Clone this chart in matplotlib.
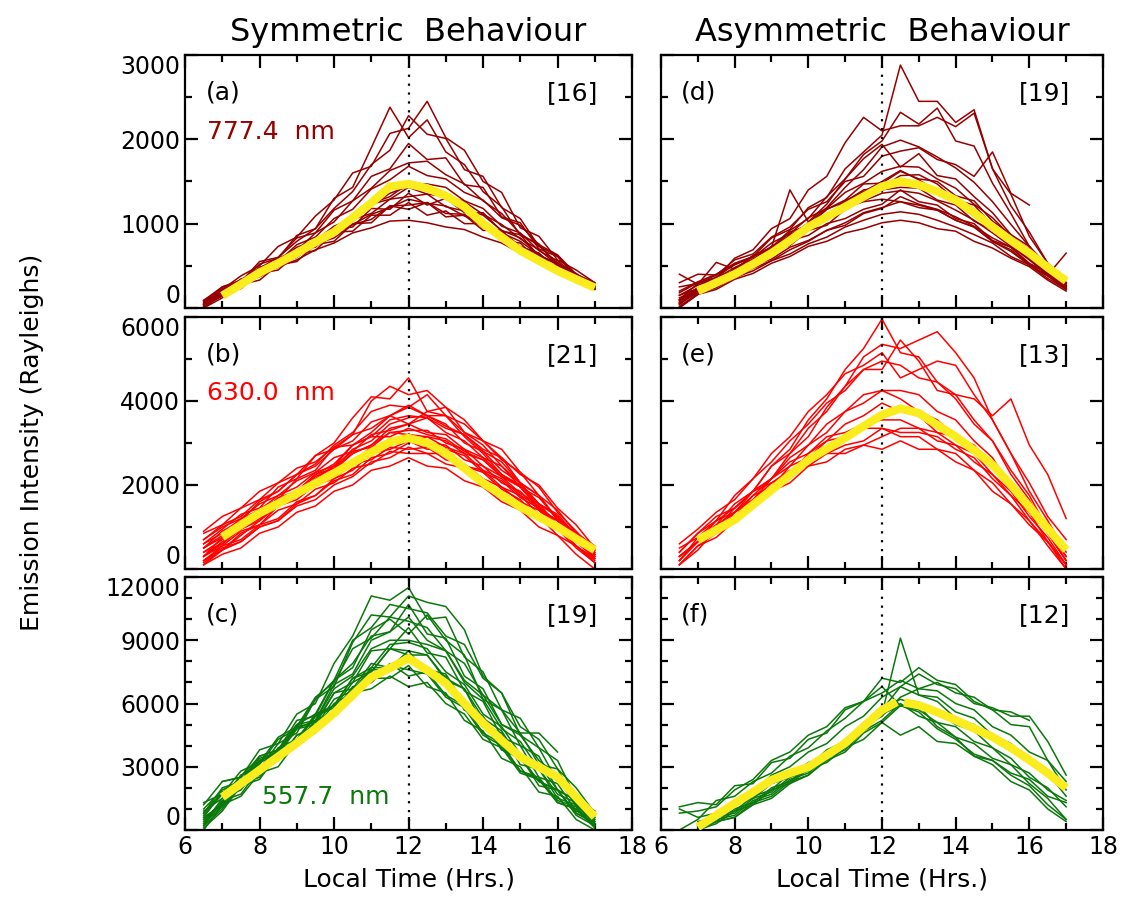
import numpy as np
import matplotlib
matplotlib.use("Agg")
import matplotlib.pyplot as plt
from matplotlib.ticker import MultipleLocator

nan = np.nan

# local time grid of the individual nights (hrs)
hours = [6.5, 7.0, 7.5, 8.0, 8.5, 9.0, 9.5, 10.0, 10.5, 11.0, 11.5,
         12.0, 12.5, 13.0, 13.5, 14.0, 14.5, 15.0, 15.5, 16.0, 16.5, 17.0]
mean_hours = [7.0, 7.5, 8.0, 8.5, 9.0, 9.5, 10.0, 10.5, 11.0, 11.5, 12.0,
              12.5, 13.0, 13.5, 14.0, 14.5, 15.0, 15.5, 16.0, 16.5, 17.0]

# ---- (a) 777.4 nm, symmetric days
trace_a = [
    [40, 230, 300, 520, 590, 860, 940, 1300, 1430, 1900, 2380, 2020, 2230, 1850, 1700, 1380, 1200, 860, 760, 500, 410, 260],
    [90, 220, 380, 500, 730, 840, 1090, 1280, 1600, 1680, 2070, 2130, 2450, 2020, 1870, 1500, 1370, 950, 850, 570, 450, 300],
    [20, 200, 290, 470, 600, 790, 940, 1180, 1380, 1700, 1870, 2280, 2060, 2010, 1640, 1560, 1190, 1060, 730, 620, 390, 290],
    [60, 250, 310, 550, 600, 830, 890, 1160, 1270, 1560, 1650, 1950, 1760, 1780, 1460, 1430, 1080, 1010, 700, 610, 360, 280],
    [10, 150, 320, 400, 590, 680, 890, 1020, 1270, 1420, 1630, 1720, 1740, 1580, 1470, 1270, 1120, 880, 740, 530, 400, 260],
    [40, 210, 260, 440, 480, 690, 720, 930, 960, 1180, 1170, 1360, 1220, 1300, 1130, 1130, 910, 870, 610, 540, 330, 240],
    [70, 180, 340, 390, 570, 630, 810, 870, 1050, 1120, 1290, 1320, 1350, 1200, 1150, 970, 910, 730, 650, 450, 370, 230],
    [0, 170, 230, 410, 450, 640, 680, 900, 910, 1100, 1100, 1250, 1100, 1150, 1000, 1000, 800, 770, 550, 500, 300, 220],
    [50, 210, 290, 420, 510, 640, 740, 880, 990, 1110, 1190, 1290, 1240, 1210, 1090, 1010, 890, 790, 630, 510, 360, 250],
    [30, 140, 280, 380, 520, 600, 760, 830, 990, 1050, 1210, 1220, 1250, 1120, 1110, 950, 890, 710, 620, 450, 350, 230],
    [90, 250, 330, 480, 560, 720, 800, 970, 1060, 1230, 1290, 1430, 1350, 1320, 1170, 1100, 920, 830, 630, 520, 350, 250],
    [50, 150, 290, 370, 490, 570, 690, 770, 890, 950, 1030, 1040, 1010, 960, 930, 840, 770, 650, 560, 420, 320, 220],
    [20, 180, 270, 420, 500, 680, 750, 950, 1030, 1240, 1320, 1480, 1470, 1430, 1270, 1180, 970, 890, 680, 560, 380, 270],
    [40, 220, 290, 480, 550, 750, 840, 1060, 1170, 1410, 1520, 1680, 1570, 1530, 1370, 1280, 1070, 980, 750, 630, 400, 300],
    [0, 120, 280, 330, 510, 550, 750, 790, 1000, 1010, 1210, 1170, 1250, 1080, 1100, 920, 920, 700, 650, 430, 370, 230],
    [80, 200, 340, 430, 570, 670, 810, 930, 1090, 1210, 1360, 1440, 1410, 1340, 1260, 1110, 990, 820, 690, 510, 380, 260],
]
mean_a = [145, 280, 420, 530, 650, 780, 900, 1070, 1245, 1440, 1470, 1420,
          1330, 1200, 1000, 840, 680, 560, 440, 340, 240]

# ---- (b) 630.0 nm, symmetric days
trace_b = [
    [300, 750, 1050, 1450, 1650, 2150, 2350, 2900, 3200, 4000, 4350, 4150, 4250, 3850, 3250, 2950, 2450, 2050, 1450, 1050, 550, 250],
    [600, 950, 1300, 1450, 1950, 2150, 2700, 3000, 3600, 4100, 4050, 4550, 3750, 3650, 3150, 2750, 2250, 1950, 1450, 1150, 650, 350],
    [200, 450, 850, 1050, 1500, 1750, 2150, 2450, 2950, 3250, 3650, 3850, 4150, 3650, 3450, 3050, 2650, 2050, 1750, 1150, 800, 400],
    [850, 1050, 1450, 1650, 2050, 2250, 2700, 2850, 3200, 3350, 3650, 3450, 3600, 3250, 3050, 2650, 2450, 1950, 1700, 1200, 850, 450],
    [500, 750, 1150, 1300, 1700, 1850, 2250, 2400, 2750, 2950, 3250, 3200, 3150, 2900, 2750, 2350, 2150, 1750, 1500, 1000, 750, 300],
    [100, 450, 650, 1000, 1150, 1550, 1750, 2150, 2350, 2750, 2850, 3050, 2850, 2850, 2450, 2300, 1900, 1650, 1200, 950, 500, 150],
    [400, 600, 1000, 1200, 1600, 1750, 2100, 2250, 2600, 2750, 3050, 3050, 3050, 2850, 2700, 2300, 2100, 1700, 1450, 950, 700, 300],
    [700, 1000, 1200, 1550, 1750, 2100, 2300, 2650, 2800, 3200, 3300, 3450, 3250, 3200, 2850, 2650, 2250, 2000, 1550, 1250, 750, 500],
    [300, 550, 900, 1050, 1400, 1550, 1900, 2050, 2400, 2500, 2800, 2750, 2750, 2500, 2400, 2050, 1850, 1450, 1250, 800, 550, 150],
    [200, 550, 700, 1050, 1200, 1600, 1750, 2100, 2250, 2650, 2750, 3000, 3150, 3050, 2750, 2600, 2200, 1950, 1450, 1150, 650, 250],
    [600, 850, 1200, 1400, 1750, 1950, 2300, 2450, 2800, 2900, 3250, 3300, 3300, 3000, 2850, 2450, 2200, 1800, 1550, 1050, 750, 350],
    [100, 350, 500, 850, 1000, 1350, 1500, 1850, 2000, 2350, 2450, 2650, 2450, 2400, 2100, 1950, 1600, 1400, 1000, 800, 350, 0],
    [500, 900, 1150, 1600, 1850, 2250, 2500, 2950, 3250, 3750, 3900, 3850, 3650, 3450, 3000, 2800, 2350, 2050, 1550, 1250, 750, 400],
    [300, 600, 950, 1150, 1550, 1750, 2150, 2350, 2750, 2950, 3350, 3450, 3750, 3850, 3550, 3050, 2850, 2300, 1950, 1350, 900, 450],
    [900, 1250, 1450, 1850, 2050, 2400, 2550, 2900, 2950, 3150, 3150, 3350, 3200, 3100, 2800, 2600, 2200, 2000, 1550, 1300, 800, 500],
    [400, 700, 950, 1200, 1500, 1650, 2000, 2150, 2500, 2600, 2900, 2850, 2900, 2600, 2500, 2150, 1950, 1600, 1400, 950, 700, 250],
    [200, 500, 650, 1000, 1150, 1500, 1650, 2000, 2200, 2550, 2650, 2900, 2750, 2750, 2450, 2350, 1950, 1750, 1300, 1000, 550, 200],
    [700, 1050, 1250, 1650, 1850, 2250, 2450, 2850, 3050, 3500, 3650, 3900, 3650, 3650, 3250, 3050, 2600, 2300, 1750, 1400, 850, 550],
    [300, 650, 950, 1250, 1550, 1850, 2200, 2400, 2850, 3050, 3450, 3600, 3650, 3400, 3200, 2800, 2550, 2050, 1750, 1200, 850, 350],
    [500, 800, 950, 1350, 1500, 1850, 2000, 2400, 2550, 2900, 3000, 3200, 3000, 2950, 2600, 2450, 2050, 1850, 1400, 1150, 650, 300],
    [150, 450, 800, 1150, 1500, 1850, 2250, 2500, 2950, 3150, 3550, 3650, 3600, 3350, 3200, 2850, 2650, 2250, 2000, 1450, 1050, 500],
]
mean_b = [760, 1050, 1330, 1560, 1800, 2040, 2280, 2530, 2780, 3020, 3120,
          3000, 2760, 2400, 2050, 1760, 1480, 1240, 1000, 720, 450]

# ---- (c) 557.7 nm, symmetric days
trace_c = [
    [1200, 2300, 2500, 3800, 4100, 5500, 6000, 7900, 9200, 11100, 10900, 11500, 10000, 10100, 8200, 7500, 5700, 5300, 3900, 3300, 1500, 900],
    [500, 1300, 2600, 2900, 4100, 4600, 6200, 6800, 8900, 10200, 10100, 11100, 10800, 10600, 9500, 7300, 6500, 4500, 3900, 2300, 1700, 600],
    [800, 2000, 2300, 3500, 3800, 5200, 5400, 7100, 7700, 9500, 10000, 9300, 10200, 9000, 8300, 6200, 5700, 4000, 3500, 1900, 1400, 400],
    [300, 1100, 2200, 2600, 3700, 4200, 5400, 5900, 7200, 7500, 8600, 8300, 8300, 7100, 6700, 5000, 4600, 3100, 2900, 1500, 1200, 300],
    [1000, 1900, 2300, 3400, 3700, 4900, 5100, 6500, 6700, 7900, 7700, 8500, 7400, 7300, 5700, 5300, 3800, 3500, 2100, 1900, 800, 400],
    [100, 900, 2100, 2400, 3600, 4000, 5200, 5600, 6800, 7000, 7800, 7600, 7400, 6300, 5800, 4500, 4000, 2800, 2400, 1300, 1000, 100],
    [700, 1700, 2100, 3200, 3600, 4800, 5000, 6500, 7000, 8500, 8600, 9600, 8400, 8200, 6600, 6100, 4400, 4000, 2500, 2200, 900, 500],
    [nan, 2300, 2500, 3500, 3800, 5000, 5200, 6900, 7400, 9000, 9400, 10700, 9300, 9100, 7300, 6700, 5000, 4600, 3100, 2900, 1300, 700],
    [400, 1200, 2300, 2700, 3800, 4100, 5200, 5500, 6500, 6700, 7300, 6800, 7000, 6000, 5500, 4300, 3900, 2700, 2400, 1300, 1000, 200],
    [600, 1800, 2100, 3300, 3600, 4800, 5200, 6700, 7300, 8600, 9000, 9000, 8800, 8500, 7100, 6400, 5000, 4500, 3300, 2600, 1200, 500],
    [200, 1000, 2200, 2500, 3600, 4000, 5200, 5500, 6700, 7000, 7900, 7300, 7500, 6400, 5900, 4600, 4100, 2800, 2500, 1400, 1100, 200],
    [900, 1500, 2600, 3100, 4300, 4800, 6200, 7100, 9000, 9600, 10700, 10500, 10300, 9200, 8800, 7200, 6500, 4900, 4300, 2900, 2000, 800],
    [300, 1500, 1900, 3000, 3300, 4500, 4900, 6200, 6600, 7700, 7700, 8200, 7400, 7100, 5700, 5100, 3800, 3400, 2300, 1900, 800, 300],
    [1300, 1700, 2800, 3200, 4400, 4900, 6300, 7000, 8600, 9100, 10100, 9900, 9600, 8500, 7900, 6400, 5700, 4600, 4600, 3700, nan, nan],
    [0, 1200, 1600, 2700, 3000, 4200, 4600, 5800, 6200, 7200, 7200, 7800, 6800, 6500, 5200, 4700, 3400, 3000, 1800, 1600, 500, 0],
    [500, 1300, 2400, 2800, 3900, 4300, 5500, 5900, 7200, 7700, 8800, 8900, 8600, 7500, 6900, 5500, 4900, 3600, 3100, 1900, 1400, 400],
    [800, 1800, 2100, 3300, 3700, 5000, 5500, 7100, 7900, 9200, 9400, 10100, 9000, 8500, 7000, 6200, 4800, 4200, 2900, 2500, 1100, 600],
    [200, 1400, 1700, 2900, 3300, 4500, 4800, 6000, 6500, 7600, 7600, 8300, 7600, 7400, 6000, 5400, 4000, 3500, 2300, 1900, 700, 200],
    [600, 1200, 2400, 2700, 3800, 4200, 5400, 5800, 7000, 7500, 8600, 8500, 8300, 7200, 6700, 5300, 4700, 3300, 2900, 1700, 1300, 300],
]
mean_c = [1560, 2200, 2840, 3480, 4120, 4800, 5540, 6400, 7250, 7680, 8150,
          7580, 6970, 6000, 5070, 4250, 3460, 2990, 2510, 1560, 620]

# ---- (d) 777.4 nm, asymmetric days
trace_d = [
    [200, 310, 400, 530, 610, 830, 930, 1190, 1310, 1650, 1850, 2050, 2880, 2450, 2450, 2200, 2350, 1650, 1350, 850, 530, 300],
    [100, 290, 350, 590, 690, 940, 1060, 1400, 1560, 1960, 2260, 2100, 2160, 2160, 2260, 2150, 2310, 1650, 1210, 900, 530, 340],
    [300, 400, 390, 570, 640, 840, 960, 1170, 1260, 1500, 1560, 1800, 1860, 1900, 1760, 1700, 1560, 1850, 1360, 1220, nan, nan],
    [80, 240, 280, 470, 540, 720, 1400, 1020, 1230, 1530, 1770, 1940, 1670, 1830, 1570, 1530, 1320, 1130, 870, 730, 460, 280],
    [400, 280, 540, 460, 620, 680, 870, 980, 1170, 1280, 1470, 1480, 1620, 1530, 1500, 1330, 1270, 1030, 870, 630, 460, 260],
    [50, 200, 280, 440, 540, 700, 800, 970, 1080, 1270, 1380, 1500, 1630, 1520, 1380, 1270, 1130, 970, 780, 620, 400, 240],
    [150, 230, 370, 440, 620, 700, 900, 980, 1170, 1260, 1400, 1430, 1570, 1580, 1470, 1280, 1220, 980, 840, 630, 490, 300],
    [100, 240, 300, 420, 500, 660, 740, 920, 980, 1170, 1280, 1400, 1430, 1420, 1280, 1220, 1030, 920, 740, 580, 380, 260],
    [60, 180, 300, 360, 500, 580, 720, 800, 920, 980, 1120, 1180, 1320, 1230, 1170, 1080, 970, 830, 720, 530, 410, 250],
    [20, 170, 240, 360, 440, 560, 640, 760, 840, 960, 1040, 1110, 1140, 1110, 1040, 960, 870, 770, 610, 510, 350, 220],
    [120, 220, 350, 420, 580, 630, 800, 860, 1000, 1060, 1170, 1230, 1400, 1260, 1220, 1060, 1000, 800, 720, 520, 420, 250],
    [0, 160, 220, 340, 410, 530, 610, 730, 790, 890, 940, 1010, 1040, 1010, 940, 910, 790, 710, 590, 490, 330, 200],
    [180, 300, 360, 520, 600, 770, 880, 1070, 1180, 1370, 1480, 1620, 1680, 1670, 1530, 1420, 1230, 1070, 850, 700, 460, 290],
    [90, 210, 360, 440, 620, 720, 920, 1060, 1320, 1530, 1820, 1980, 2320, 2180, 2370, 1980, 1920, 1480, 1120, 730, 500, 290],
    [40, 200, 280, 410, 510, 670, 790, 960, 1090, 1260, 1370, 1430, 1490, 1460, 1370, 1260, 1110, 960, 770, 590, 400, 260],
    [250, 290, 390, 510, 610, 710, 860, 970, 1110, 1190, 1260, 1290, 1260, 1190, 1160, 1040, 960, 790, 690, 510, 380, 230],
    [60, 220, 310, 440, 560, 710, 850, 1010, 1190, 1430, 1640, 1910, 1990, 1910, 1790, 1660, 1490, 1260, 990, 730, 460, 300],
    [150, 270, 350, 480, 580, 730, 830, 970, 1070, 1190, 1270, 1360, 1390, 1360, 1270, 1160, 1040, 890, 730, 570, 390, 650],
    [10, 160, 270, 350, 470, 560, 690, 790, 920, 1010, 1130, 1190, 1260, 1220, 1160, 1040, 960, 790, 670, 510, 380, 220],
]
mean_d = [200, 300, 400, 520, 650, 800, 960, 1080, 1200, 1320, 1440, 1500,
          1460, 1380, 1280, 1130, 960, 800, 650, 480, 320]

# ---- (e) 630.0 nm, asymmetric days
trace_e = [
    [300, 650, 950, 1450, 1850, 2450, 2850, 3550, 4050, 4750, 5250, 5950, 5150, 5050, 4450, 4050, 3450, 3050, 2350, 1750, 950, 300],
    [200, 750, 1050, 1550, 1850, 2450, 2750, 3350, 3750, 4350, 4750, 4750, 5450, 4950, 4250, 4150, 3550, 3050, 2250, 1650, 850, 200],
    [100, 450, 950, 1250, 1750, 2150, 2750, 3150, 3850, 4350, 5050, 5350, 5250, 5450, 5650, 5150, 4550, 3550, 2750, 1850, 1150, 400],
    [400, 850, 1150, 1750, 2150, 2750, 3150, 3750, 4150, 4650, 4850, 5150, 4550, 4750, 4950, 4850, 4150, 3550, 2750, 2050, 1250, 700],
    [100, 550, 850, 1350, 1650, 2150, 2450, 2950, 3250, 3750, 3950, 4250, 4250, 4150, 3750, 3550, 3050, 2650, 1950, 1550, 850, 200],
    [500, 750, 1150, 1450, 1850, 2150, 2550, 2750, 3150, 3250, 3450, 3550, 3550, 3350, 3250, 2950, 2750, 2250, 1850, 1250, 750, 100],
    [200, 650, 950, 1350, 1650, 2050, 2250, 2650, 2750, 2950, 3050, 3350, 3150, 3150, 2850, 2750, 2350, 2050, 1550, 1150, 550, 0],
    [300, 650, 1150, 1350, 1850, 2150, 2650, 2950, 3450, 3750, 4150, 4250, 4050, 3750, 3550, 3150, 2950, 2450, 2050, 1350, 850, 200],
    [400, 850, 1250, 1450, 1850, 2050, 2350, 2450, 2750, 2750, 2950, 2850, 3050, 2850, 2850, 2550, 2350, 1850, 1550, 1050, 650, 100],
    [100, 550, 750, 1150, 1450, 1850, 2050, 2450, 2550, 2850, 2950, 3150, 3350, 3350, 3050, 2950, 2550, 2250, 1750, 1350, 650, 100],
    [600, 950, 1350, 1650, 2150, 2550, 3050, 3450, 3950, 4250, 4750, 4950, 4850, 4550, 4450, 4150, 4050, 3650, 4050, 2950, 2250, 1200],
    [200, 650, 850, 1250, 1550, 1950, 2250, 2750, 3050, 3450, 3650, 3950, 3750, 3650, 3250, 3150, 2750, 2450, 1950, 1550, 850, 300],
    [300, 650, 1050, 1350, 1750, 1950, 2450, 2650, 3050, 3150, 3350, 3350, 3250, 3250, 3150, 2850, 2650, 2150, 1750, 1150, 650, 0],
]
mean_e = [690, 930, 1170, 1530, 1880, 2240, 2600, 2860, 3120, 3400, 3670,
          3820, 3710, 3430, 3150, 2830, 2480, 2000, 1480, 960, 450]

# ---- (f) 557.7 nm, asymmetric days
trace_f = [
    [1100, 1300, 1200, 2100, 2200, 3200, 3400, 4300, 4600, 5700, 6100, 7200, 7000, 7700, 7100, 6900, 6100, 5700, 5000, 4900, 3300, 2300],
    [0, 500, 1400, 1600, 2300, 2700, 3500, 3900, 4700, 5300, 6100, 6500, 7100, 6700, 6600, 6000, 5700, 4900, 4500, 3700, 3300, 1900],
    [800, 900, 1100, 1900, 2400, 3300, 3700, 4500, 4900, 5800, 6100, 6800, 5900, 5600, 4800, 4300, 3600, 3300, 2600, 2100, 1200, 500],
    [nan, 0, 500, 700, 1400, 1700, 2400, 2700, 3500, 3900, 4900, 5500, 9100, 6400, 6300, 5600, 5300, 4500, 4100, 3200, 2700, 1600],
    [nan, 200, 400, 1000, 1300, 2000, 2300, 3000, 3300, 4100, 4700, 5500, 5900, 5700, 5100, 4900, 4200, 3900, 3100, 2700, 1900, 1400],
    [nan, 0, 400, 600, 1300, 1600, 2300, 2600, 3300, 3700, 4600, 5100, 5900, 5900, 5600, 5000, 4700, 3900, 3400, 2500, 2000, 1100],
    [nan, 100, 700, 900, 1600, 1900, 2700, 3000, 3800, 4200, 5100, 5700, 6800, 6400, 6100, 5300, 5000, 4300, 4000, 3200, 2800, 2100],
    [nan, 0, 300, 900, 1200, 1900, 2200, 2900, 3200, 3900, 4300, 5100, 4500, 4900, 4200, 4100, 3500, 3300, 2700, 2400, 1600, 1300],
    [nan, 400, 600, 1200, 1500, 2200, 2500, 3200, 3500, 4300, 4700, 5700, 6200, 5900, 4900, 4400, 3500, 3100, 2300, 1900, 1000, 400],
    [nan, 0, 600, 800, 1500, 1800, 2500, 2800, 3600, 4000, 4900, 5400, 6300, 6700, 7000, 6500, 6300, 5700, 5600, 5200, nan, nan],
    [1000, 600, 800, 1400, 1800, 2600, 3000, 3700, 4100, 4900, 5400, 6300, 6800, 7400, 6900, 6700, 6000, 5800, 5400, 5400, 4200, 2600],
    [nan, 0, 400, 600, 1200, 1500, 2200, 2600, 3400, 3800, 4700, 5200, 6000, 5400, 5100, 4400, 4100, 3400, 3100, 2200, 1500, 500],
]
mean_f_am_hours = [7.0, 7.5, 8.0, 8.5, 9.0, 9.5, 10.0, 10.5, 11.0, 11.5, 12.0, 12.4]
mean_f_am = [140, 700, 1260, 1800, 2370, 2700, 2990, 3550, 4120, 4900, 5690, 6070]
mean_f_pm_hours = [12.6, 13.0, 13.5, 14.0, 14.5, 15.0, 15.5, 16.0, 16.5, 17.0]
mean_f_pm = [6050, 5920, 5590, 5210, 4820, 4410, 3900, 3320, 2700, 1990]

# y tick values of each row
yticks_rows = [[0, 1000, 2000, 3000],
               [0, 2000, 4000, 6000],
               [0, 3000, 6000, 9000, 12000]]

dark_red = '#960000'
red = '#ff0000'
green = '#0a780a'
yellow = '#fbec1e'

fig = plt.figure(figsize=(11.27, 9.13), dpi=100)
plt.rcParams['font.family'] = 'DejaVu Sans'

col_left = [0.1642, 0.5865]
col_width = [0.3966, 0.3922]
row_bottom = [0.6627, 0.3768, 0.0909]
row_height = [0.2771, 0.276, 0.2771]

yminor = [500, 1000, 1000]

panels = [
    # (row, col, letter, count, traces, colour, mean pieces)
    (0, 0, '(a)', '[16]', trace_a, dark_red, [(mean_hours, mean_a)]),
    (1, 0, '(b)', '[21]', trace_b, red, [(mean_hours, mean_b)]),
    (2, 0, '(c)', '[19]', trace_c, green, [(mean_hours, mean_c)]),
    (0, 1, '(d)', '[19]', trace_d, dark_red, [(mean_hours, mean_d)]),
    (1, 1, '(e)', '[13]', trace_e, red, [(mean_hours, mean_e)]),
    (2, 1, '(f)', '[12]', trace_f, green, [(mean_f_am_hours, mean_f_am),
                                           (mean_f_pm_hours, mean_f_pm)]),
]

axes = {}
for row, col, letter, count, traces, colour, means in panels:
    ax = fig.add_axes([col_left[col], row_bottom[row], col_width[col], row_height[row]])
    axes[(row, col)] = ax
    for tr in traces:
        ax.plot(hours, np.array(tr, dtype=float), color=colour, lw=1.1, zorder=2)
    ax.axvline(12, color='k', ls=(0, (1, 3)), lw=1.6, zorder=3)
    for mh, mv in means:
        ax.plot(mh, mv, color=yellow, lw=6, zorder=4, solid_capstyle='butt')

    yt_vals = yticks_rows[row]
    ax.set_yticks(yt_vals)
    ax.set_xlim(6, 18)
    ax.set_ylim(yt_vals[0], yt_vals[-1])
    ax.xaxis.set_major_locator(MultipleLocator(2))
    ax.xaxis.set_minor_locator(MultipleLocator(1))
    ax.yaxis.set_minor_locator(MultipleLocator(yminor[row]))
    ax.tick_params(which='both', direction='in', top=True, right=True,
                   width=1.6, labelsize=17)
    ax.tick_params(which='major', length=9.5)
    ax.tick_params(which='minor', length=5)
    for sp in ax.spines.values():
        sp.set_linewidth(1.6)
    if row < 2:
        ax.tick_params(labelbottom=False)
    if col == 1:
        ax.tick_params(labelleft=False)
    else:
        # keep the end labels inside the panel, as in the original
        yt = ax.yaxis.get_major_ticks()
        yt[0].label1.set_verticalalignment('bottom')
        yt[-1].label1.set_verticalalignment('top')

    ax.text(0.046 if col == 0 else 0.045, 0.85, letter, transform=ax.transAxes,
            fontsize=18, ha='left', va='center')
    ax.text(0.925, 0.85, count, transform=ax.transAxes,
            fontsize=18, ha='right', va='center')

axes[(0, 0)].text(0.05, 0.696, '777.4  nm', color=dark_red, fontsize=18,
                  transform=axes[(0, 0)].transAxes, ha='left', va='center')
axes[(1, 0)].text(0.05, 0.70, '630.0  nm', color=red, fontsize=18,
                  transform=axes[(1, 0)].transAxes, ha='left', va='center')
axes[(2, 0)].text(0.172, 0.13, '557.7  nm', color=green, fontsize=18,
                  transform=axes[(2, 0)].transAxes, ha='left', va='center')

axes[(0, 0)].set_title('Symmetric  Behaviour', fontsize=23, pad=10)
axes[(0, 1)].set_title('Asymmetric  Behaviour', fontsize=23, pad=10)
axes[(2, 0)].set_xlabel('Local Time (Hrs.)', fontsize=18, labelpad=6)
axes[(2, 1)].set_xlabel('Local Time (Hrs.)', fontsize=18, labelpad=6)
fig.text(0.028, 0.515, 'Emission Intensity (Rayleighs)', rotation=90,
         fontsize=18, ha='center', va='center')

fig.savefig('out.png', dpi=100)
